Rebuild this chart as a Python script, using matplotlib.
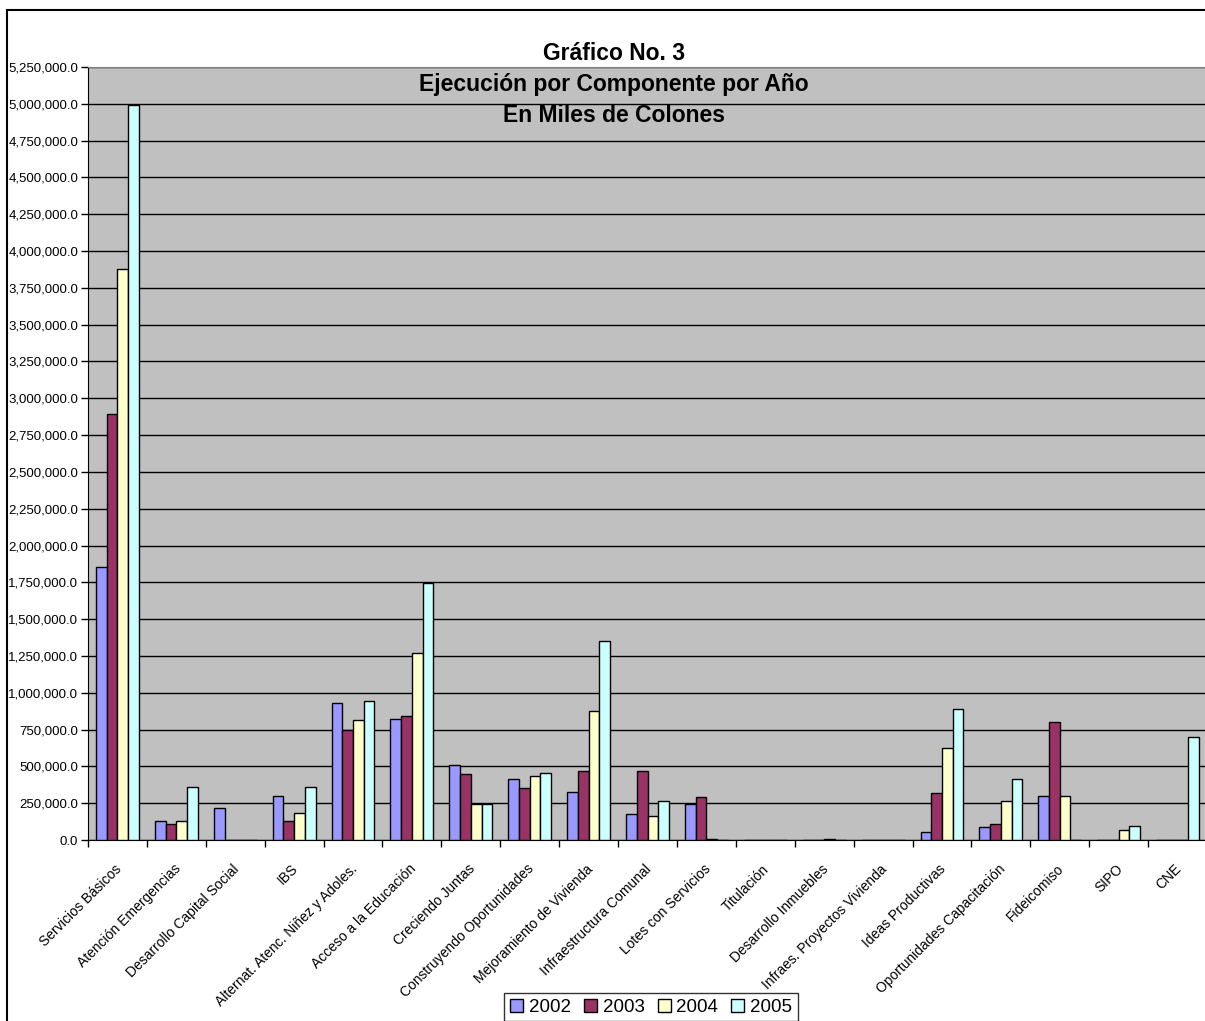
import matplotlib
matplotlib.use("Agg")
import matplotlib.pyplot as plt
import matplotlib.transforms as mtransforms
import numpy as np
from matplotlib.patches import Patch, Rectangle
from matplotlib.ticker import FuncFormatter, MultipleLocator

plt.rcParams['font.family'] = ['Liberation Sans', 'DejaVu Sans']

categories = ["Servicios Básicos", "Atención Emergencias", "Desarrollo Capital Social", "IBS",
              "Alternat. Atenc. Niñez y Adoles.", "Acceso a la Educación", "Creciendo Juntas",
              "Construyendo Oportunidades", "Mejoramiento de Vivienda", "Infraestructura Comunal",
              "Lotes con Servicios", "Titulación", "Desarrollo Inmuebles", "Infraes. Proyectos Vivienda",
              "Ideas Productivas", "Oportunidades Capacitación", "Fideicomiso", "SIPO", "CNE"]
years = ["2002", "2003", "2004", "2005"]
v2002 = [1855000, 131000, 215000, 301000, 928000, 822000, 511000, 417000, 328000, 179000,
         245000, 0, 0, 0, 54000, 90000, 301000, 0, 0]
v2003 = [2895000, 107000, 0, 131000, 747000, 840000, 450000, 355000, 471000, 471000,
         294000, 0, 0, 0, 317000, 107000, 803000, 0, 0]
v2004 = [3878000, 131000, 0, 186000, 813000, 1270000, 242000, 435000, 876000, 161000,
         8000, 0, 8000, 0, 627000, 267000, 301000, 70000, 0]
v2005 = [4990000, 362000, 0, 362000, 944000, 1748000, 247000, 453000, 1354000, 267000,
         0, 0, 0, 0, 892000, 417000, 0, 97000, 697000]
series = [v2002, v2003, v2004, v2005]
colors = ["#9999FF", "#993366", "#FFFFCC", "#CCFFFF"]

W, H = 1205, 1021
fig = plt.figure(figsize=(W / 100, H / 100), dpi=100)
ax = fig.add_axes([88 / W, (H - 840) / H, 1119 / W, 773 / H])
ax.set_facecolor("#C0C0C0")

x = np.arange(len(categories)) + 0.5
bw = 0.182
for i, (vals, c) in enumerate(zip(series, colors)):
    ax.bar(x + (i - 1.5) * bw, vals, width=bw, color=c, edgecolor="black", linewidth=1.0, zorder=3)

ax.set_xlim(0, len(categories))
ax.set_ylim(0, 5250000)
ax.yaxis.set_major_locator(MultipleLocator(250000))
ax.yaxis.set_major_formatter(FuncFormatter(lambda v, p: f"{v:,.1f}"))
ax.grid(axis="y", color="black", linewidth=1.0, zorder=1)
ax.set_axisbelow(True)

ax.set_xticks(x)
ax.set_xticklabels(categories, rotation=45, ha="right", rotation_mode="anchor", fontsize=10)
ax.set_xticks(np.arange(len(categories) + 1), minor=True)
ax.tick_params(axis="x", which="major", length=0, pad=10)
ax.tick_params(axis="x", which="minor", length=5, direction="out", width=1)
ax.tick_params(axis="y", length=5, direction="out", width=1, labelsize=9.5, pad=2)
off = mtransforms.ScaledTranslation(-3 / 100, -8 / 100, fig.dpi_scale_trans)
for lab in ax.get_xticklabels():
    lab.set_transform(lab.get_transform() + off)

for s in ["top", "right"]:
    ax.spines[s].set_color("#808080")
ax.spines["left"].set_color("black")
ax.spines["bottom"].set_color("black")

tx = 614 / W
fs_t = 16.5
fig.text(tx, 1 - 54 / H, "Gráfico No. 3", ha="center", va="center", fontsize=fs_t, fontweight="bold")
fig.text(tx, 1 - 85 / H, "Ejecución por Componente por Año", ha="center", va="center", fontsize=fs_t, fontweight="bold")
fig.text(tx, 1 - 115 / H, "En Miles de Colones", ha="center", va="center", fontsize=fs_t, fontweight="bold")

fig.patches.append(Rectangle((7 / W, -0.05), 1.2, 1.05 - 10 / H, transform=fig.transFigure,
                             fill=False, edgecolor="black", linewidth=1.5))

handles = [Patch(facecolor=c, edgecolor="black", linewidth=1.0) for c in colors]
leg = fig.legend(handles, years, loc="upper center", bbox_to_anchor=(651 / W, 1 - 993 / H),
                 ncol=4, fontsize=13.5, frameon=True, fancybox=False, edgecolor="black",
                 handlelength=0.7, handleheight=0.7, handletextpad=0.3, columnspacing=0.7,
                 borderpad=0.3, borderaxespad=0)
leg.get_frame().set_linewidth(1.0)

fig.savefig("out.png", dpi=100)
